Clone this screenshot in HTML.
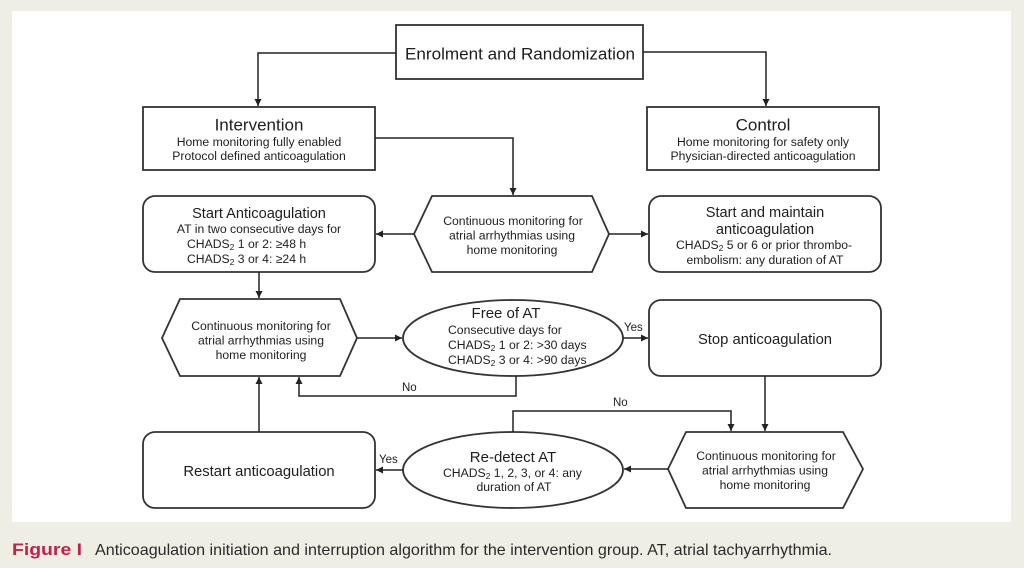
<!DOCTYPE html>
<html><head><meta charset="utf-8"><style>
html,body{margin:0;padding:0;background:#efeee5;}
svg{display:block;}
text{font-family:"Liberation Sans",Arial,sans-serif;fill:#1e1e1e;}
</style></head><body>
<svg width="1024" height="568" viewBox="0 0 1024 568" xmlns="http://www.w3.org/2000/svg">
<defs>
<marker id="ah" markerWidth="8" markerHeight="8" refX="7" refY="3.5" orient="auto" markerUnits="userSpaceOnUse">
<path d="M0,0 L7,3.5 L0,7 Z" fill="#222"/>
</marker>
</defs>
<rect x="0" y="0" width="1024" height="568" fill="#efeee5"/>
<rect x="12" y="11" width="999" height="511" fill="#ffffff"/>

<g fill="none" stroke="#333" stroke-width="1.8">
<rect x="396" y="25" width="247" height="54"/>
<rect x="143" y="107" width="232" height="63"/>
<rect x="647" y="107" width="232" height="63"/>
<rect x="143" y="196" width="232" height="76" rx="12"/>
<rect x="649" y="196" width="232" height="76" rx="12"/>
<rect x="649" y="300" width="232" height="76" rx="12"/>
<rect x="143" y="432" width="232" height="76" rx="12"/>
<polygon points="414,234 432,196 592,196 609,234 592,272 432,272"/>
<polygon points="162,338 180,299 340,299 357,338 340,376 180,376"/>
<polygon points="668,469 686,432 843,432 863,469 843,508 686,508"/>
<ellipse cx="513" cy="338" rx="110" ry="38"/>
<ellipse cx="513" cy="470" rx="110" ry="38"/>
</g>

<g fill="none" stroke="#222" stroke-width="1.5">
<polyline points="396,53 258,53 258,106" marker-end="url(#ah)"/>
<polyline points="643,52 766,52 766,106" marker-end="url(#ah)"/>
<polyline points="375,138 513,138 513,195" marker-end="url(#ah)"/>
<line x1="414" y1="234" x2="376" y2="234" marker-end="url(#ah)"/>
<line x1="609" y1="234" x2="648" y2="234" marker-end="url(#ah)"/>
<line x1="259" y1="272" x2="259" y2="298" marker-end="url(#ah)"/>
<line x1="357" y1="338" x2="402" y2="338" marker-end="url(#ah)"/>
<line x1="623" y1="338" x2="648" y2="338" marker-end="url(#ah)"/>
<polyline points="516,376 516,396 299,396 299,377" marker-end="url(#ah)"/>
<line x1="259" y1="432" x2="259" y2="377" marker-end="url(#ah)"/>
<line x1="765" y1="376" x2="765" y2="431" marker-end="url(#ah)"/>
<polyline points="513,432 513,411 731,411 731,431" marker-end="url(#ah)"/>
<line x1="668" y1="469" x2="624" y2="469" marker-end="url(#ah)"/>
<line x1="403" y1="470" x2="376" y2="470" marker-end="url(#ah)"/>
</g>

<text x="405" y="59.5" font-size="17" textLength="230" lengthAdjust="spacingAndGlyphs">Enrolment and Randomization</text>

<text x="259" y="130.5" font-size="17" text-anchor="middle">Intervention</text>
<text x="259" y="146" font-size="12.2" text-anchor="middle">Home monitoring fully enabled</text>
<text x="259" y="160" font-size="12.2" text-anchor="middle">Protocol defined anticoagulation</text>

<text x="763" y="130.5" font-size="17" text-anchor="middle">Control</text>
<text x="763" y="146" font-size="12.2" text-anchor="middle">Home monitoring for safety only</text>
<text x="763" y="160" font-size="12.2" text-anchor="middle">Physician-directed anticoagulation</text>

<text x="259" y="218" font-size="14.6" text-anchor="middle">Start Anticoagulation</text>
<text x="259" y="233" font-size="12.2" text-anchor="middle">AT in two consecutive days for</text>
<text x="187" y="248" font-size="12.2">CHADS<tspan font-size="8.5" dy="2">2</tspan><tspan dy="-2"> 1 or 2: ≥48 h</tspan></text>
<text x="187" y="263" font-size="12.2">CHADS<tspan font-size="8.5" dy="2">2</tspan><tspan dy="-2"> 3 or 4: ≥24 h</tspan></text>

<text x="513" y="225" font-size="12.2" text-anchor="middle">Continuous monitoring for</text>
<text x="512" y="239.5" font-size="12.2" text-anchor="middle">atrial arrhythmias using</text>
<text x="512" y="254" font-size="12.2" text-anchor="middle">home monitoring</text>

<text x="765" y="217" font-size="14.6" text-anchor="middle">Start and maintain</text>
<text x="765" y="234" font-size="14.6" text-anchor="middle">anticoagulation</text>
<text x="676" y="249" font-size="12.2">CHADS<tspan font-size="8.5" dy="2">2</tspan><tspan dy="-2"> 5 or 6 or prior thrombo-</tspan></text>
<text x="765" y="264" font-size="12.2" text-anchor="middle">embolism: any duration of AT</text>

<text x="261" y="330" font-size="12.2" text-anchor="middle">Continuous monitoring for</text>
<text x="261" y="344.5" font-size="12.2" text-anchor="middle">atrial arrhythmias using</text>
<text x="261" y="359" font-size="12.2" text-anchor="middle">home monitoring</text>

<text x="506" y="318" font-size="15" text-anchor="middle">Free of AT</text>
<text x="448" y="334" font-size="12.2">Consecutive days for</text>
<text x="448" y="349" font-size="12.2">CHADS<tspan font-size="8.5" dy="2">2</tspan><tspan dy="-2"> 1 or 2: &gt;30 days</tspan></text>
<text x="448" y="364" font-size="12.2">CHADS<tspan font-size="8.5" dy="2">2</tspan><tspan dy="-2"> 3 or 4: &gt;90 days</tspan></text>

<text x="765" y="344" font-size="14.8" text-anchor="middle">Stop  anticoagulation</text>
<text x="624" y="331" font-size="11.5">Yes</text>
<text x="402" y="391" font-size="11.5">No</text>
<text x="613" y="406" font-size="11.5">No</text>

<text x="766" y="460" font-size="12.2" text-anchor="middle">Continuous monitoring for</text>
<text x="765" y="474.5" font-size="12.2" text-anchor="middle">atrial arrhythmias using</text>
<text x="765" y="489" font-size="12.2" text-anchor="middle">home monitoring</text>

<text x="513" y="462" font-size="15" text-anchor="middle">Re-detect  AT</text>
<text x="443" y="477" font-size="12.2">CHADS<tspan font-size="8.5" dy="2">2</tspan><tspan dy="-2"> 1, 2, 3, or 4: any</tspan></text>
<text x="514" y="491" font-size="12.2" text-anchor="middle">duration of AT</text>

<text x="259" y="476" font-size="14.8" text-anchor="middle">Restart  anticoagulation</text>
<text x="379" y="463" font-size="11.5">Yes</text>

<text x="12" y="555" font-size="17" font-weight="bold" style="fill:#c2214a" textLength="70" lengthAdjust="spacingAndGlyphs">Figure I</text>
<text x="95" y="555" font-size="16" style="fill:#2a2a2a" textLength="737" lengthAdjust="spacingAndGlyphs">Anticoagulation initiation and interruption algorithm for the intervention group. AT, atrial tachyarrhythmia.</text>
</svg>
</body></html>
